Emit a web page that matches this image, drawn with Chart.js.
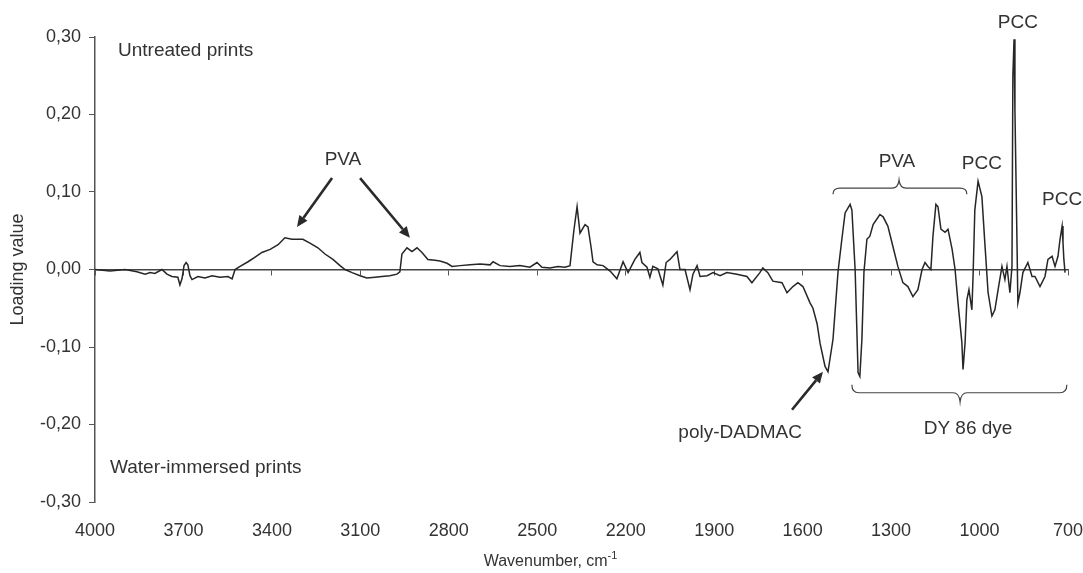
<!DOCTYPE html>
<html>
<head>
<meta charset="utf-8">
<script src="https://cdn.jsdelivr.net/npm/chart.js@4.4.1/dist/chart.umd.min.js"></script>
<style>
html,body{margin:0;padding:0;background:#fff;}
#wrap{width:1083px;height:573px;position:relative;}
</style>
</head>
<body>
<div id="wrap"><canvas id="c" width="1083" height="573"></canvas></div>
<script>
// ---- data ----
const wavenumbers = [4000,3949,3898,3858,3830,3813,3797,3773,3756,3739,3719,3712,3705,3698,3691,3685,3678,3671,3651,3627,3603,3576,3549,3535,3525,3508,3481,3457,3434,3406,3379,3356,3332,3295,3271,3244,3220,3193,3169,3152,
3128,3101,3078,3050,3027,3000,2976,2966,2959,2942,2925,2908,2891,2871,2847,2830,2806,2789,2762,2728,2694,2660,2650,2626,2593,2559,2525,2501,2484,2457,2430,2406,2389,2376,2365,2355,2338,2328,2318,2311,2297,2277,2253,2230,2209,2192,2169,2152,2145,2128,2118,2108,2091,2074,2063,2050,2026,2016,1999,1982,1972,1958,1948,1924,1904,1880,1857,1823,1789,1772,1745,1735,1718,1701,1670,1653,1633,1616,1599,1575,1565,1551,1541,1524,1514,1497,1480,1467,1456,1439,1433,1422,1412,1406,1399,1392,1382,1372,1361,1338,1327,1311,1294,1277,1260,1243,1226,1209,1195,1185,1175,1165,1158,1148,1141,1131,1117,1107,1093,1083,1073,1060,1056,1049,1043,1036,1026,1022,1016,1005,992,982,971,958,948,937,924,914,907,897,890,887,883,880,873,870,863,853,836,822,812,795,778,768,754,744,734,727,720,717,714,710];
const loadings = [0.000,-0.002,0.000,-0.003,-0.006,-0.004,-0.005,0.000,-0.006,-0.009,-0.010,-0.020,-0.012,0.005,0.009,0.006,-0.008,-0.013,-0.009,-0.011,-0.008,-0.010,-0.009,-0.012,0.000,0.004,0.010,0.016,0.022,0.026,0.032,0.041,0.039,0.039,0.034,0.028,0.020,0.013,0.005,0.000,
-0.004,-0.008,-0.011,-0.010,-0.009,-0.008,-0.006,-0.003,0.020,0.028,0.023,0.028,0.022,0.013,0.012,0.011,0.008,0.004,0.005,0.006,0.007,0.006,0.010,0.005,0.004,0.005,0.003,0.009,0.003,0.002,0.004,0.003,0.005,0.050,0.081,0.047,0.058,0.055,0.030,0.010,0.006,0.005,-0.002,-0.012,0.010,-0.004,0.013,0.022,0.009,0.003,-0.010,0.004,0.001,-0.020,0.009,0.013,0.023,0.000,0.000,-0.026,-0.006,0.005,-0.009,-0.008,-0.004,-0.008,-0.004,-0.006,-0.009,-0.017,-0.004,0.002,-0.004,-0.015,-0.017,-0.030,-0.022,-0.017,-0.022,-0.043,-0.050,-0.070,-0.095,-0.125,-0.132,-0.090,-0.003,0.039,0.073,0.084,0.077,0.000,-0.133,-0.138,-0.090,-0.003,0.039,0.043,0.058,0.071,0.068,0.056,0.030,0.004,-0.017,-0.022,-0.035,-0.026,0.000,0.009,0.004,0.000,0.043,0.084,0.081,0.052,0.048,0.052,0.026,0.000,-0.043,-0.094,-0.129,-0.094,-0.039,-0.026,-0.052,-0.009,0.077,0.114,0.094,0.034,-0.030,-0.060,-0.052,-0.026,0.004,-0.013,0.004,-0.030,0.004,0.249,0.297,0.206,0.035,-0.043,-0.030,-0.004,0.009,-0.009,-0.009,-0.022,-0.009,0.013,0.017,0.004,0.017,0.039,0.056,0.035,0.013,-0.004];
const xTickValues = [4000,3700,3400,3100,2800,2500,2200,1900,1600,1300,1000,700];
const yTickValues = [-0.30,-0.20,-0.10,0.00,0.10,0.20,0.30];

// annotations (data coordinates)
const labels = [
  {text:'Untreated prints', w:3922, v:0.282, align:'left'},
  {text:'Water-immersed prints', w:3949, v:-0.256, align:'left'},
  {text:'PVA', w:3159, v:0.141},
  {text:'PVA', w:1280, v:0.139},
  {text:'PCC', w:992, v:0.137},
  {text:'PCC', w:870, v:0.319},
  {text:'PCC', w:720, v:0.090},
  {text:'poly-DADMAC', w:1812, v:-0.211},
  {text:'DY 86 dye', w:1039, v:-0.206}
];
const arrows = [
  {from:[3196,0.118], to:[3315,0.055]},
  {from:[3101,0.118], to:[2932,0.041]},
  {from:[1636,-0.181], to:[1531,-0.132]}
];
const braces = [
  {w1:1497, w2:1043, wm:1273, v:0.105, dir:-1},
  {w1:1433, w2:704, wm:1066, v:-0.159, dir:1}
];

const FONT = '"Liberation Sans", Arial, Helvetica, sans-serif';
const TXT = '#333';

function fmt(v){ if (Math.abs(v) < 1e-9) v = 0; return v.toFixed(2).replace('.', ','); }

const annotPlugin = {
  id: 'annot',
  afterDraw(chart){
    const {ctx, scales} = chart;
    const xs = scales.x, ys = scales.y;
    const P = (w, v) => [xs.getPixelForValue(w), ys.getPixelForValue(v)];
    ctx.save();
    ctx.fillStyle = TXT;
    ctx.font = '19px ' + FONT;
    ctx.textBaseline = 'middle';
    labels.forEach(t => {
      ctx.textAlign = t.align || 'center';
      const [px, py] = P(t.w, t.v);
      ctx.fillText(t.text, px, py);
    });
    // arrows
    ctx.strokeStyle = '#2a2a2a';
    ctx.fillStyle = '#2a2a2a';
    arrows.forEach(a => {
      const [x1, y1] = P(a.from[0], a.from[1]);
      const [x2, y2] = P(a.to[0], a.to[1]);
      const ang = Math.atan2(y2 - y1, x2 - x1);
      const hl = 11, hw = 5;
      const bx = x2 - hl * Math.cos(ang), by = y2 - hl * Math.sin(ang);
      ctx.lineWidth = 2.6;
      ctx.beginPath(); ctx.moveTo(x1, y1); ctx.lineTo(bx, by); ctx.stroke();
      ctx.beginPath();
      ctx.moveTo(x2, y2);
      ctx.lineTo(bx + hw * Math.sin(ang), by - hw * Math.cos(ang));
      ctx.lineTo(bx - hw * Math.sin(ang), by + hw * Math.cos(ang));
      ctx.closePath(); ctx.fill();
    });
    // braces
    ctx.lineWidth = 1.2;
    ctx.strokeStyle = '#444';
    braces.forEach(b => {
      const [xa, yb] = P(b.w1, b.v);
      const [xb] = P(b.w2, b.v);
      const [xm] = P(b.wm, b.v);
      const hook = b.dir < 0 ? 6 : -8;
      const tip = b.dir < 0 ? -8 : 9;
      ctx.beginPath();
      ctx.moveTo(xa, yb + hook);
      ctx.quadraticCurveTo(xa, yb, xa + 7, yb);
      ctx.lineTo(xm - 7, yb);
      ctx.quadraticCurveTo(xm - 1, yb, xm, yb + tip);
      ctx.quadraticCurveTo(xm + 1, yb, xm + 7, yb);
      ctx.lineTo(xb - 7, yb);
      ctx.quadraticCurveTo(xb, yb, xb, yb + hook);
      ctx.stroke();
    });
    // x axis title
    ctx.fillStyle = TXT;
    ctx.font = '16px ' + FONT;
    ctx.textAlign = 'left';
    ctx.textBaseline = 'middle';
    const main = 'Wavenumber, cm';
    const sup = '-1';
    const mw = ctx.measureText(main).width;
    ctx.font = '11px ' + FONT;
    const sw = ctx.measureText(sup).width;
    const cx = xs.getPixelForValue(2455);
    const ty = chart.chartArea.bottom + 60;
    const sx = cx - (mw + sw) / 2;
    ctx.font = '16px ' + FONT;
    ctx.fillText(main, sx, ty);
    ctx.font = '11px ' + FONT;
    ctx.fillText(sup, sx + mw, ty - 6);
    ctx.restore();
  }
};

function noSidePad(s){ s.paddingLeft = 0; s.paddingRight = 0; }

new Chart(document.getElementById('c'), {
  type: 'line',
  data: {
    datasets: [{
      data: wavenumbers.map((w, i) => ({x: w, y: loadings[i]})),
      borderColor: '#262626',
      borderWidth: 1.5,
      pointRadius: 0,
      tension: 0,
      fill: false,
      xAxisID: 'x',
      yAxisID: 'y'
    }]
  },
  options: {
    responsive: false,
    animation: false,
    devicePixelRatio: 1,
    layout: {padding: {top: 37, right: 15, left: 0, bottom: 0}},
    plugins: {legend: {display: false}, tooltip: {enabled: false}, title: {display: false}},
    scales: {
      x: {
        type: 'linear', position: 'bottom', reverse: true,
        min: 700, max: 4000,
        afterBuildTicks: s => { s.ticks = xTickValues.map(v => ({value: v})); },
        ticks: {color: TXT, font: {family: FONT, size: 18}, padding: 18, maxRotation: 0, autoSkip: false,
                callback: v => String(v)},
        grid: {display: false, drawTicks: false},
        border: {display: false},
        afterFit: s => { s.height = 71; noSidePad(s); }
      },
      x2: {
        type: 'linear', position: {y: 0}, reverse: true,
        min: 700, max: 4000,
        afterBuildTicks: s => { s.ticks = xTickValues.map(v => ({value: v})); },
        ticks: {display: false},
        grid: {drawOnChartArea: false, drawTicks: true, tickLength: 5, color: '#555', lineWidth: 1},
        border: {display: true, color: '#444', width: 1.5},
        afterFit: s => { noSidePad(s); }
      },
      y: {
        type: 'linear', position: 'left',
        min: -0.3, max: 0.3,
        afterBuildTicks: s => { s.ticks = yTickValues.map(v => ({value: v})); },
        ticks: {color: TXT, font: {family: FONT, size: 18}, padding: 8, callback: v => fmt(v)},
        grid: {drawOnChartArea: false, drawTicks: true, tickLength: 6, color: '#555'},
        border: {display: true, color: '#555', width: 1.5},
        title: {display: true, text: 'Loading value', color: TXT, font: {family: FONT, size: 18}, padding: {top: 7, bottom: 0}},
        afterFit: s => { s.width = 95; }
      }
    }
  },
  plugins: [annotPlugin]
});
</script>
</body>
</html>
